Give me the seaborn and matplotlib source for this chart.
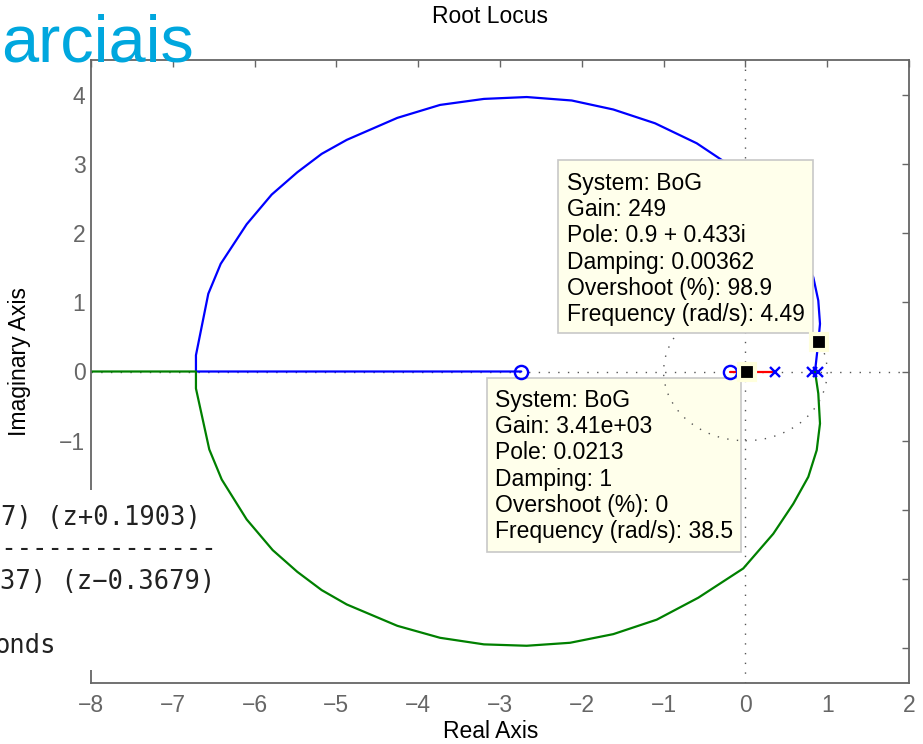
import matplotlib
matplotlib.use("Agg")
import matplotlib.pyplot as plt
import seaborn as sns
from matplotlib.patches import Rectangle, Circle

# ---- root locus branches (real part, imaginary part) ----
upper_re = [0.815, 0.851, 0.891, 0.912, 0.891, 0.830, 0.586, 0.341, -0.026, -0.278,
            -0.595, -1.105, -1.615, -2.123, -2.674, -3.196, -3.733, -4.255, -4.874,
            -5.180, -5.478, -5.791, -6.097, -6.414, -6.566, -6.717, -6.717, -2.74]
upper_im = [0.0, 0.0, 0.424, 0.689, 1.025, 1.362, 1.910, 2.344, 2.845, 3.047,
            3.297, 3.586, 3.785, 3.915, 3.965, 3.938, 3.851, 3.664, 3.346,
            3.144, 2.878, 2.556, 2.127, 1.556, 1.123, 0.235, 0.0, 0.0]

lower_re = [0.893, 0.851, 0.891, 0.912, 0.872, 0.769, 0.586, 0.341, -0.026, -0.576,
            -1.084, -1.615, -2.144, -2.674, -3.196, -3.733, -4.255, -4.874, -5.180,
            -5.478, -5.779, -6.097, -6.402, -6.554, -6.717, -6.717, -9.0]
lower_im = [0.0, 0.0, -0.318, -0.751, -1.136, -1.522, -1.910, -2.344, -2.845, -3.268,
            -3.585, -3.794, -3.919, -3.962, -3.942, -3.847, -3.674, -3.365, -3.158,
            -2.894, -2.580, -2.137, -1.560, -1.126, -0.245, 0.0, 0.0]

inner_re = [0.3679, -0.1903]
inner_im = [0.0, 0.0]

poles_re = [0.3679, 0.815, 0.893]
zeros_re = [-2.74, -0.1903]

# data tips
tip_re = [0.9, 0.0213]
tip_im = [0.433, 0.0]
tip_texts = [
    ["System: BoG", "Gain: 249", "Pole: 0.9 + 0.433i", "Damping: 0.00362",
     "Overshoot (%): 98.9", "Frequency (rad/s): 4.49"],
    ["System: BoG", "Gain: 3.41e+03", "Pole: 0.0213", "Damping: 1",
     "Overshoot (%): 0", "Frequency (rad/s): 38.5"],
]

x_ticks = list(range(-8, 3))
y_ticks = list(range(-4, 5))
# labels below -1 sit under the printout panel
y_ticklabels = ["", "", "", "\u22121", "0", "1", "2", "3", "4"]

sns.set_theme(style="white")
plt.rcParams["font.family"] = ["Liberation Sans", "DejaVu Sans"]

W, H = 923, 744
fig = plt.figure(figsize=(W / 100, H / 100), dpi=100)
fig.patch.set_facecolor("white")


def fx(px):
    return px / W


def fy(py):
    return 1 - py / H


ax = fig.add_axes([fx(91), fy(683), fx(909) - fx(91), fy(60) - fy(683)])
ax.set_facecolor("white")

grid_kw = dict(color="#555555", lw=1.0, ls=(0, (1, 6)))
ax.axhline(0, zorder=1, **grid_kw)
ax.axvline(0, zorder=1, **grid_kw)

line_kw = dict(estimator=None, sort=False, ax=ax, lw=1.6, legend=False)
sns.lineplot(x=upper_re, y=upper_im, color="#0000FF", zorder=2, **line_kw)
sns.lineplot(x=lower_re, y=lower_im, color="#008000", zorder=2, **line_kw)
sns.lineplot(x=inner_re, y=inner_im, color="#FF0000", zorder=2, **line_kw)

sns.lineplot(x=zeros_re, y=[0.0] * len(zeros_re), estimator=None, sort=False, ax=ax,
             marker="o", linestyle="none", markersize=9.5, markerfacecolor="none",
             markeredgecolor="#0000FF", markeredgewidth=1.7, color="#0000FF",
             zorder=6, legend=False)
sns.lineplot(x=poles_re, y=[0.0] * len(poles_re), estimator=None, sort=False, ax=ax,
             marker="x", linestyle="none", markersize=7, markeredgecolor="#0000FF",
             markeredgewidth=1.7, color="#0000FF", zorder=6, legend=False)

# data tip boxes
tip_boxes = [(558, 160, 812.7, 333.3), (487.3, 378.3, 740.7, 551.7)]
tip_text_x = [567, 495]
tip_baseline0 = [190, 407]
tip_z = [7, 3]
for (x0, y0, x1, y1), tx, b0, z, lines in zip(tip_boxes, tip_text_x, tip_baseline0,
                                               tip_z, tip_texts):
    rect = Rectangle((fx(x0), fy(y1)), fx(x1) - fx(x0), fy(y0) - fy(y1),
                     transform=fig.transFigure, facecolor="#FFFFEB",
                     edgecolor="#C8C8C8", lw=1.2, zorder=z, clip_on=False)
    ax.add_patch(rect)
    for i, s in enumerate(lines):
        ax.text(fx(tx), fy(b0 + 26.2 * i), s, transform=fig.transFigure,
                fontsize=16.5, color="black", ha="left", va="baseline",
                zorder=z + 0.5)

# unit circle
ax.add_patch(Circle((0, 0), 1, fill=False, ec="#555555", lw=1.0,
                    ls=(0, (1, 6)), zorder=4))

sns.lineplot(x=tip_re, y=tip_im, estimator=None, sort=False, ax=ax, marker="s",
             linestyle="none", markersize=11, markerfacecolor="black",
             markeredgecolor="#FFFFDC", markeredgewidth=3.0, color="black",
             zorder=9, legend=False)

ax.set_xlim(-8, 2)
ax.set_ylim(-4.5, 4.5)
ax.set_xticks(x_ticks)
ax.set_yticks(y_ticks)
ax.set_yticklabels(y_ticklabels)
ax.set_xlabel("")
ax.set_ylabel("")
ax.tick_params(axis="both", direction="in", length=5, width=1.0, color="#666666",
               labelcolor="#666666", labelsize=16.5, top=True, right=True)
ax.tick_params(axis="x", pad=8)
ax.tick_params(axis="y", pad=4)
for sp in ax.spines.values():
    sp.set_visible(True)
    sp.set_color("#666666")
    sp.set_linewidth(1.3)

fig.text(fx(490.5), fy(23), "Root Locus", ha="center", va="baseline",
         fontsize=16.5, color="black")
fig.text(fx(491), fy(738), "Real Axis", ha="center", va="baseline",
         fontsize=16.5, color="black")
fig.text(fx(20), fy(361), "Imaginary Axis", ha="center", va="center",
         rotation=90, fontsize=16.5, color="black")

# slide overlay: heading fragment and transfer function printout
fig.text(fx(1), fy(61), "arciais", ha="left", va="baseline", fontsize=48,
         color="#00A7DE", zorder=20)
fig.add_artist(Rectangle((0, fy(670)), fx(220), fy(490) - fy(670),
                         transform=fig.transFigure, facecolor="white",
                         edgecolor="none", zorder=15))
mono = dict(family="DejaVu Sans Mono", fontsize=18.4, color="#222222",
            ha="right", va="baseline", zorder=16)
fig.text(fx(201), fy(525), "7) (z+0.1903)", **mono)
fig.text(fx(217), fy(556), "-" * 15, **mono)
fig.text(fx(215), fy(589), "37) (z\u22120.3679)", **mono)
fig.text(fx(56), fy(653), "onds", **mono)

fig.savefig("out.png", dpi=100)
